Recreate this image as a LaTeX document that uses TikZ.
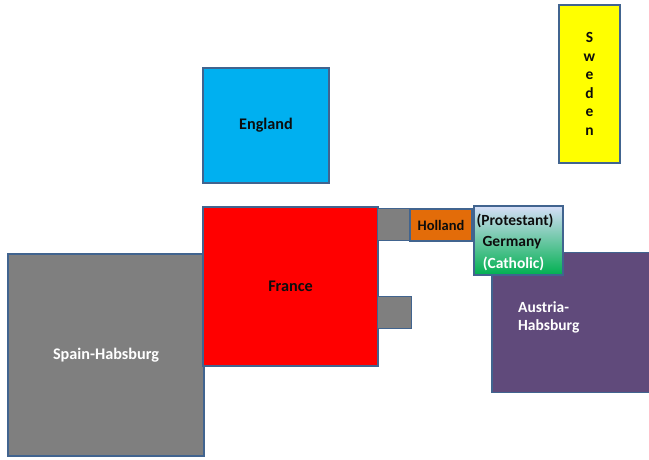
\documentclass[tikz,border=0pt]{standalone}
\usepackage{fontspec}
\setmainfont{Carlito}
\definecolor{edge}{HTML}{41648F}
\definecolor{engl}{HTML}{00B0F0}
\definecolor{swed}{HTML}{FFFF00}
\definecolor{fran}{HTML}{FF0000}
\definecolor{grey}{HTML}{7F7F7F}
\definecolor{holl}{HTML}{E36C09}
\definecolor{aust}{HTML}{604A7B}
\definecolor{gtop}{HTML}{D6DEF8}
\definecolor{gmid}{HTML}{D2E2EE}
\definecolor{gbot}{HTML}{00B050}
\definecolor{darktext}{HTML}{0D0D0D}
\tikzset{
  country/.style={draw=edge, line width=1.6pt, rectangle, inner sep=0pt, font=\fontsize{16.2}{19}\selectfont\bfseries},
  midfont/.style={font=\fontsize{15.5}{18}\selectfont\bfseries},
}
\begin{document}
\begin{tikzpicture}[x=1pt,y=-1pt]
\useasboundingbox (0,0) rectangle (649,459);
\begin{scope}
\clip (0,0) rectangle (649,459);
% Spain
\node[country, fill=grey, text=white, minimum width=196pt, minimum height=202pt] (spain) at (106,355) {Spain-Habsburg};
% France
\node[country, fill=fran, text=darktext, minimum width=175pt, minimum height=159pt] (france) at (290.5,286.5) {France};
% England
\node[country, fill=engl, text=darktext, minimum width=126pt, minimum height=115pt] (england) at (266,125.5) {England};
% Sweden
\node[country, fill=swed, text=darktext, minimum width=61pt, minimum height=158pt, align=center, font=\fontsize{15.5}{18.6}\selectfont\bfseries] (sweden) at (589.5,84) {S\\w\\e\\d\\e\\n};
% small grey boxes
\node[country, fill=grey, minimum width=34pt, minimum height=32pt] (greyA) at (394.5,224.5) {};
\node[country, fill=grey, minimum width=34pt, minimum height=32pt] (greyB) at (394.5,312.5) {};
% Holland
\node[country, fill=holl, text=darktext, minimum width=62pt, minimum height=32pt, font=\fontsize{14.5}{17}\selectfont\bfseries] (holland) at (441,225) {Holland};
% Austria
\node[country, fill=aust, minimum width=165pt, minimum height=140pt] (austria) at (574.5,322.5) {};
\node[anchor=north west, align=left, text=white, inner sep=0pt, font=\fontsize{15.5}{17.5}\selectfont\bfseries] (austriatext) at (518,301.5) {Austria-\\Habsburg};
% Germany
\node[country, top color=gtop, middle color=gmid, bottom color=gbot, minimum width=89pt, minimum height=69pt, shading angle=0] (germany) at (518.5,240.5) {};
\node[midfont, text=darktext, inner sep=0pt] (prot) at (515,221) {(Protestant)};
\node[midfont, text=darktext, inner sep=0pt] (germ) at (512,243) {Germany};
\node[midfont, text=white, inner sep=0pt] (cath) at (513.5,264) {(Catholic)};
\end{scope}
\end{tikzpicture}
\end{document}
